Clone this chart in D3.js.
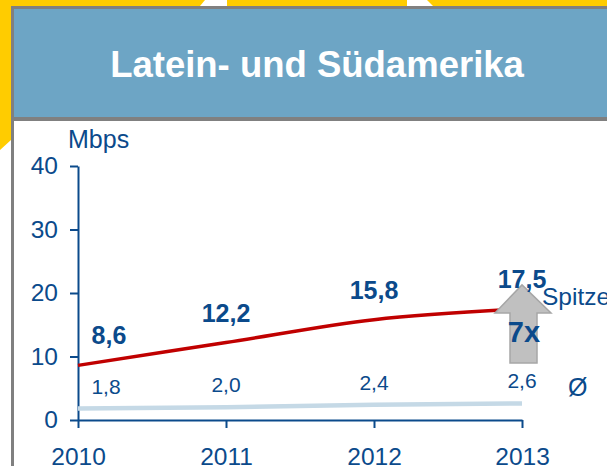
<!DOCTYPE html>
<html>
<head>
<meta charset="utf-8">
<script src="https://cdn.jsdelivr.net/npm/d3@7"></script>
<style>
  html,body{margin:0;padding:0;background:#fff;}
  svg{display:block;font-family:"Liberation Sans",Arial,sans-serif;}
</style>
</head>
<body>
<svg id="chart" width="607" height="466"></svg>
<script>
'use strict';

var years=[2010,2011,2012,2013];
var peak=[8.6,12.2,15.8,17.5];
var avg=[1.8,2.0,2.4,2.6];
var yTicks=[0,10,20,30,40];
var title='Latein- und Südamerika';
var unit='Mbps';
var peakName='Spitze';
var avgName='Ø';

var blue='#0b4a8b'
  , svg=d3.select('#chart');

// frame: yellow backdrop, grey border, blue title band
svg.append('rect').attr('width',607).attr('height',466).attr('fill','#fff');
svg.append('path')
    .attr('d','M0,0 H607 V6 H11 V140 L0,150 Z')
    .attr('fill','#ffcc00');
svg.append('path').attr('d','M205,0 H227 V6 H200 Z').attr('fill','#fff');
svg.append('path').attr('d','M407,0 H427 L433,6 H407 Z').attr('fill','#fff');
svg.append('rect').attr('x',11).attr('y',6).attr('width',596).attr('height',115).attr('fill','#808080');
svg.append('rect').attr('x',11).attr('y',121).attr('width',3).attr('height',345).attr('fill','#808080');
svg.append('rect').attr('x',14).attr('y',9).attr('width',593).attr('height',108).attr('fill','#6da5c5');
svg.append('rect').attr('x',14).attr('y',121).attr('width',593).attr('height',345).attr('fill','#fff');

svg.append('text')
    .attr('x',317).attr('y',77)
    .attr('text-anchor','middle')
    .attr('fill','#fff')
    .attr('font-weight','bold')
    .attr('font-size',36.5)
    .text(title);

var x=d3.scaleLinear().domain([2010,2013]).range([78,522])
  , y=d3.scaleLinear().domain([0,40]).range([420,166]);

var yAxis=svg.append('g')
    .attr('transform','translate(78,0)')
    .call(d3.axisLeft(y).tickValues(yTicks).tickSize(8).tickSizeOuter(0).tickPadding(12));
var xAxis=svg.append('g')
    .attr('transform','translate(0,420)')
    .call(d3.axisBottom(x).tickValues(years).tickFormat(d3.format('d')).tickSize(8).tickSizeOuter(0).tickPadding(20));

[yAxis,xAxis].forEach(function(g){
    g.select('.domain').attr('stroke',blue).attr('stroke-width',2);
    g.selectAll('.tick line').attr('stroke',blue).attr('stroke-width',2);
    g.selectAll('.tick text')
        .attr('fill',blue)
        .attr('font-size',24.5)
        .attr('font-family','"Liberation Sans",Arial,sans-serif');
});
xAxis.selectAll('.tick text').attr('dy','0.71em');

svg.append('text')
    .attr('x',68).attr('y',148)
    .attr('fill',blue)
    .attr('font-size',25)
    .text(unit);

// series
var avgLine=d3.line()
    .x(function(d,i){return x(years[i]);})
    .y(function(d){return y(d);});
var peakLine=d3.line()
    .x(function(d,i){return x(years[i]);})
    .y(function(d){return y(d);})
    .curve(d3.curveCatmullRom);

svg.append('path')
    .attr('d',avgLine(avg))
    .attr('fill','none')
    .attr('stroke','#c5d9e6')
    .attr('stroke-width',4.5);
svg.append('path')
    .attr('d',peakLine(peak))
    .attr('fill','none')
    .attr('stroke','#c00000')
    .attr('stroke-width',3.5);

var fmt=function(v){return d3.format('.1f')(v).replace('.',',');};

// growth arrow at last year
var last=years.length-1
  , ax=x(years[last])
  , tip=y(peak[last])-24
  , headY=tip+28
  , base=tip+78;
svg.append('path')
    .attr('d','M'+ax+','+tip+' L'+(ax+29)+','+headY+' H'+(ax+15)+' V'+base+' H'+(ax-12)+' V'+headY+' H'+(ax-27)+' Z')
    .attr('fill','#c0c0c0')
    .attr('stroke','#a6a6a6')
    .attr('stroke-width',1.5);

svg.selectAll('text.peak')
    .data(peak).enter().append('text')
    .attr('class','peak')
    .attr('x',function(d,i){return x(years[i])+(i==0?31:0);})
    .attr('y',function(d){return y(d)-21;})
    .attr('text-anchor','middle')
    .attr('fill',blue)
    .attr('font-weight','bold')
    .attr('font-size',25)
    .text(fmt);

svg.selectAll('text.avg')
    .data(avg).enter().append('text')
    .attr('class','avg')
    .attr('x',function(d,i){return x(years[i])+(i==0?28:0);})
    .attr('y',function(d){return y(d)-15;})
    .attr('text-anchor','middle')
    .attr('fill',blue)
    .attr('font-size',21)
    .text(fmt);

svg.append('text')
    .attr('x',ax+2).attr('y',342)
    .attr('text-anchor','middle')
    .attr('fill',blue)
    .attr('font-weight','bold')
    .attr('font-size',29)
    .text(Math.round(peak[last]/avg[last])+'x');

svg.append('text')
    .attr('x',ax+20).attr('y',y(peak[last])-4)
    .attr('fill',blue)
    .attr('font-size',24.5)
    .text(peakName);
svg.append('text')
    .attr('x',ax+46).attr('y',y(avg[last])-7)
    .attr('fill',blue)
    .attr('font-size',25)
    .text(avgName);
</script>
</body>
</html>
